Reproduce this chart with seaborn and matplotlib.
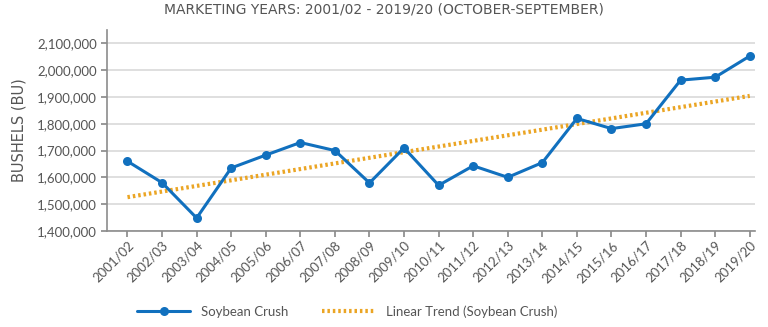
import numpy as np
import pandas as pd
import matplotlib
matplotlib.use("Agg")
import matplotlib.pyplot as plt
import seaborn as sns
from matplotlib.ticker import FuncFormatter

years = ["2001/02", "2002/03", "2003/04", "2004/05", "2005/06", "2006/07", "2007/08",
         "2008/09", "2009/10", "2010/11", "2011/12", "2012/13", "2013/14", "2014/15",
         "2015/16", "2016/17", "2017/18", "2018/19", "2019/20"]
crush = [1660000, 1580000, 1448000, 1635000, 1683000, 1730000, 1700000,
         1579000, 1710000, 1570000, 1643000, 1600000, 1655000, 1820000,
         1782000, 1800000, 1963000, 1974000, 2053000]
yticks = [1400000, 1500000, 1600000, 1700000, 1800000, 1900000, 2000000, 2100000]

sns.set_theme(style="white")
plt.rcParams['font.family'] = ['Lato', 'DejaVu Sans']

BLUE = "#1170BE"
ORANGE = "#EBA524"
TXT = "#555555"

idx = np.arange(len(years))
coef = np.polyfit(idx, crush, 1)
trend = np.polyval(coef, idx)
df = pd.DataFrame({"idx": idx, "crush": crush, "trend": trend})

fig = plt.figure(figsize=(7.68, 3.27), dpi=100)
ax = fig.add_axes([0.139, 0.294, 0.844, 0.614])

sns.lineplot(data=df, x="idx", y="crush", ax=ax, color=BLUE, lw=2.2, marker="o",
             markersize=6.5, markeredgewidth=0, label="Soybean Crush", zorder=3)
sns.lineplot(data=df, x="idx", y="trend", ax=ax, color=ORANGE, lw=3,
             linestyle=(0, (0.6, 0.7)), label="Linear Trend (Soybean Crush)", zorder=2)

ax.set_xlim(-0.6, 18.15)
ax.set_ylim(1400000, 2150000)
ax.set_yticks(yticks)
ax.yaxis.set_major_formatter(FuncFormatter(lambda v, p: f"{int(v):,}"))
ax.set_xticks(idx)
ax.set_xticklabels(years, rotation=45, ha="right", rotation_mode="anchor")
ax.grid(axis="y", color="#D9D9D9", lw=1.2)
ax.set_axisbelow(True)
for s in ["top", "right"]:
    ax.spines[s].set_visible(False)
for s in ["left", "bottom"]:
    ax.spines[s].set_color("#8C8C8C")
    ax.spines[s].set_linewidth(1.2)
ax.tick_params(axis="y", length=4, color="#8C8C8C", labelsize=9.5, labelcolor=TXT, pad=3, left=True)
ax.tick_params(axis="x", length=4, color="#8C8C8C", labelsize=9.5, labelcolor=TXT, pad=2, bottom=True)
ax.set_xlabel("")
ax.set_ylabel("BUSHELS (BU)", fontsize=10.5, color=TXT, labelpad=8,
              family=["DejaVu Sans"])

fig.text(0.5, 0.972, "MARKETING YEARS: 2001/02 - 2019/20 (OCTOBER-SEPTEMBER)",
         ha="center", va="center", fontsize=10, color=TXT, family=["DejaVu Sans"])

ax.get_legend().remove()
h, l = ax.get_legend_handles_labels()
fig.legend(h, l, loc="center", bbox_to_anchor=(0.452, 0.048), ncol=2, frameon=False,
           fontsize=9.5, labelcolor=TXT, handlelength=4, columnspacing=2.6, handletextpad=0.8)

fig.savefig("out.png", dpi=100)
